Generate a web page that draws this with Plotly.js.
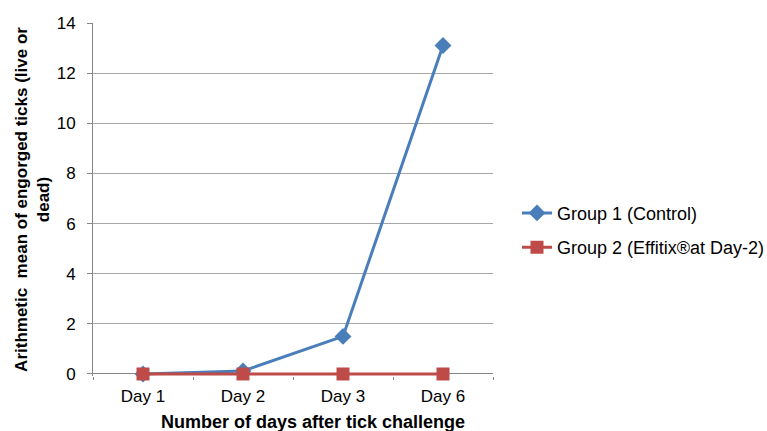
<!DOCTYPE html>
<html><head><meta charset="utf-8">
<script src="https://cdn.plot.ly/plotly-3.0.1.min.js"></script>
<style>body{margin:0;background:#fff}#chart{width:767px;height:431px}</style>
</head><body><div id="chart"></div>
<script>
const categories = ["Day 1", "Day 2", "Day 3", "Day 6"];
const group1 = [0, 0.12, 1.5, 13.1];
const group2 = [0, 0, 0, 0];
const yTicks = [0, 2, 4, 6, 8, 10, 12, 14];

const traces = [
  {x: categories, y: group1, name: "Group 1 (Control)", legendgroup: "g1", type: "scatter", mode: "lines+markers",
   cliponaxis: false,
   line: {color: "#4A7EBB", width: 3}, marker: {symbol: "diamond", size: 13, color: "#4A7EBB"}},
  {x: categories, y: group2, name: "Group 2 (Effitix®at Day-2)", legendgroup: "g2", type: "scatter", mode: "lines+markers",
   cliponaxis: false,
   line: {color: "#BE4B48", width: 3}, marker: {symbol: "square", size: 13, color: "#BE4B48"}}
];
const fam = "Liberation Sans, Arial, sans-serif";
const font = {family: fam, size: 17, color: "#000"};
const layout = {
  width: 767, height: 431,
  margin: {l: 93, r: 274, t: 23, b: 55, autoexpand: false},
  paper_bgcolor: "#fff", plot_bgcolor: "#fff",
  font: font,
  showlegend: true,
  legend: {x: 1.06, y: 0.413, yanchor: "middle", xanchor: "left", font: {family: fam, size: 18, color: "#000"},
    traceorder: "grouped", tracegroupgap: 8, itemwidth: 30},
  xaxis: {type: "category", range: [-0.5, 3.5], showline: false,
    ticks: "outside", tickson: "boundaries", ticklen: 3, tickcolor: "#868686", showgrid: false, zeroline: false,
    tickfont: font, ticklabelstandoff: 8, automargin: false},
  yaxis: {range: [-0.08, 14], tickvals: yTicks, showline: true, linecolor: "#868686", linewidth: 1,
    ticks: "outside", ticklen: 5, tickcolor: "#868686", showgrid: true, gridcolor: "#A6A6A6", gridwidth: 1,
    zeroline: true, zerolinecolor: "#868686", zerolinewidth: 1,
    tickfont: font, ticklabelstandoff: 8, automargin: false,
    title: {text: "<b>Arithmetic  mean of engorged ticks (live or<br>dead)</b>", font: {family: fam, size: 17, color: "#000"}, standoff: 2}},
  annotations: [{
    text: "<b>Number of days after tick challenge</b>", xref: "paper", yref: "paper",
    x: 0.55, y: -0.130, xanchor: "center", yanchor: "middle", showarrow: false,
    font: {family: fam, size: 18, color: "#000"}
  }]
};
Plotly.newPlot("chart", traces, layout, {displayModeBar: false, staticPlot: true});
</script></body></html>
